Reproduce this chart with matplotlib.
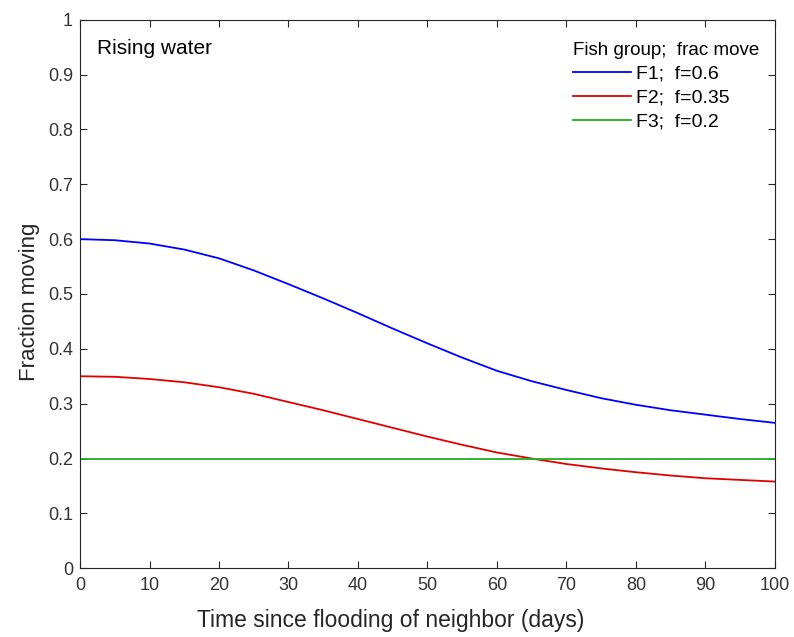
import numpy as np
import matplotlib
matplotlib.use("Agg")
import matplotlib.pyplot as plt

plt.rcParams['font.family'] = ['Liberation Sans', 'DejaVu Sans']

# values, every 5 days
days = [0, 5, 10, 15, 20, 25, 30, 35, 40, 45, 50, 55, 60, 65, 70, 75, 80, 85, 90, 95, 100]
f1 = [0.600, 0.598, 0.592, 0.581, 0.565, 0.543, 0.518, 0.492, 0.465, 0.437, 0.410,
      0.384, 0.360, 0.341, 0.325, 0.310, 0.298, 0.288, 0.280, 0.272, 0.265]
f2 = [0.350, 0.349, 0.345, 0.339, 0.330, 0.318, 0.303, 0.288, 0.272, 0.256, 0.240,
      0.225, 0.211, 0.200, 0.190, 0.182, 0.175, 0.169, 0.164, 0.161, 0.158]
f3 = [0.2] * len(days)
labels = ['F1;  f=0.6', 'F2;  f=0.35', 'F3;  f=0.2']
colors = ['#0000ff', '#e00000', '#20b020']

fig = plt.figure(figsize=(7.94, 6.37), dpi=100)
ax = fig.add_axes([0.1008, 0.108, 0.875, 0.861])

for ys, lab, c in zip([f1, f2, f3], labels, colors):
    ax.plot(days, ys, color=c, lw=1.3, label=lab)

ax.set_xlim(0, 100)
ax.set_ylim(0, 1)
ax.set_xticks(np.arange(0, 101, 10))
ax.set_yticks(np.arange(0, 1.01, 0.1))
ax.set_yticklabels(['0', '0.1', '0.2', '0.3', '0.4', '0.5', '0.6', '0.7', '0.8', '0.9', '1'])
ax.tick_params(direction='in', top=True, right=True, length=5, labelsize=13,
               colors='#262626', labelcolor='#333333')
ax.tick_params(axis='x', pad=6)
ax.tick_params(axis='y', pad=5)
for sp in ax.spines.values():
    sp.set_color('#262626')
    sp.set_linewidth(0.8)

ax.set_xlabel('Time since flooding of neighbor (days)', fontsize=16.5, color='#262626')
ax.xaxis.set_label_coords(0.447, -0.075)
ax.set_ylabel('Fraction moving', fontsize=16, color='#262626')
ax.yaxis.set_label_coords(-0.058, 0.485)
ax.text(0.025, 0.965, 'Rising water', transform=ax.transAxes, fontsize=15,
        va='top', ha='left')

leg = ax.legend(title='Fish group;  frac move', loc='upper right', frameon=False,
                fontsize=14, title_fontsize=13.5, handlelength=3.0, handletextpad=0.25,
                borderaxespad=0.4, labelspacing=0.32, bbox_to_anchor=(1.0, 0.988))
leg._legend_box.align = 'left'

fig.savefig('out.png', dpi=100)
